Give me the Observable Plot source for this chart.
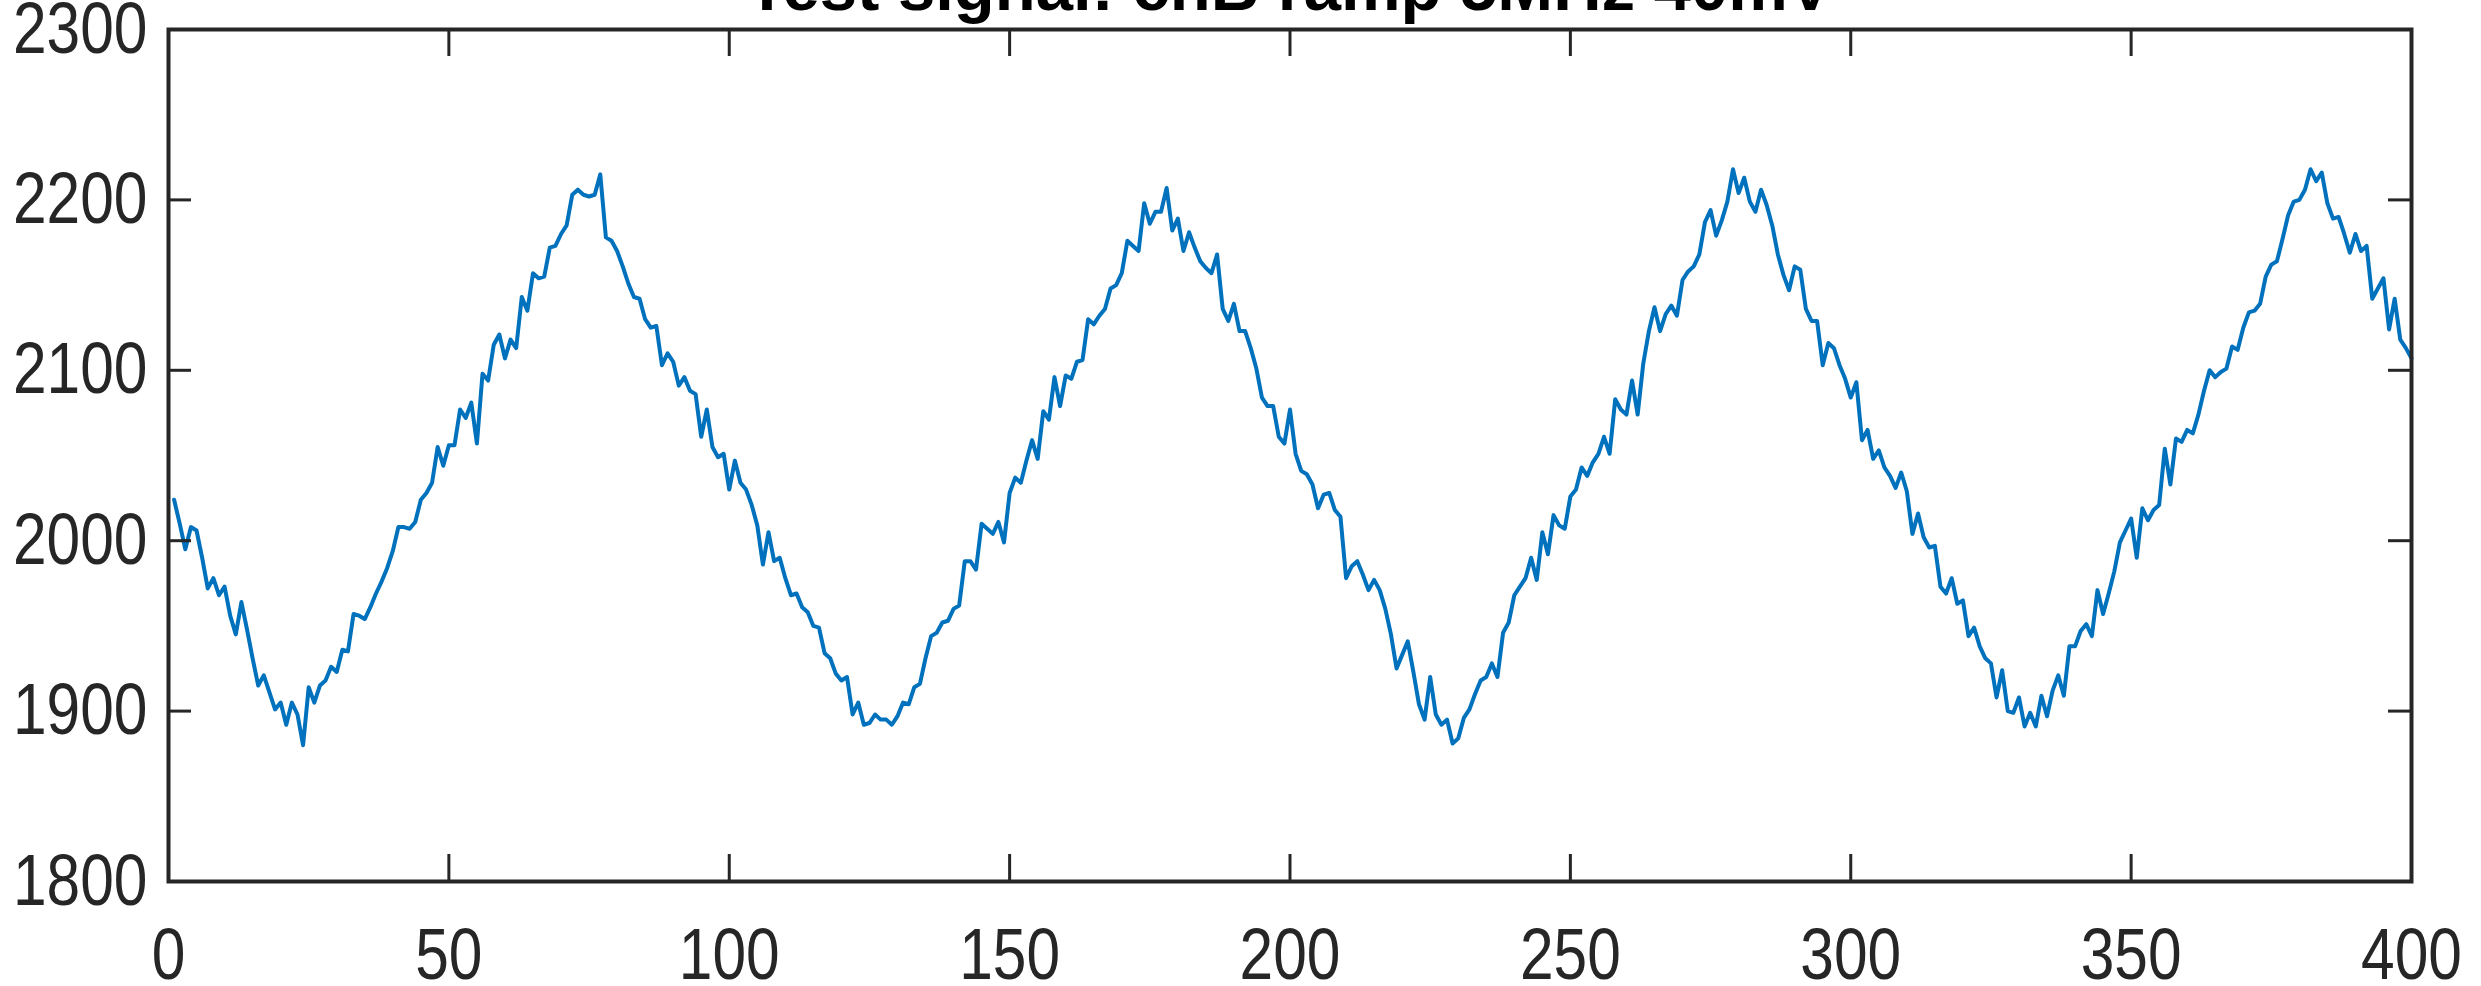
<!DOCTYPE html>
<html>
<head>
<meta charset="utf-8">
<script src="https://cdn.jsdelivr.net/npm/d3@7"></script>
<script src="https://cdn.jsdelivr.net/npm/@observablehq/plot@0.6"></script>
<style>
  html, body { margin: 0; padding: 0; background: #fff; }
  #wrap { position: relative; width: 2481px; height: 986px; overflow: hidden; }
  #title { position: absolute; left: 168px; width: 2243px; top: -47px; text-align: center;
           font-family: "Liberation Sans", Arial, sans-serif; font-weight: bold; font-size: 67px;
           line-height: 67px; color: #000; z-index: 2; white-space: nowrap; }
</style>
</head>
<body>
<div id="wrap"><div id="title"></div><div id="chart"></div></div>
<script>
const titleText = "Test signal: chB ramp 5MHz 40mV";
const xTicks = [0, 50, 100, 150, 200, 250, 300, 350, 400];
const yTicks = [1800, 1900, 2000, 2100, 2200, 2300];
const sampleIndex = d3.range(1, 401);
const signal = [
  2024, 2010, 1995, 2008, 2006, 1990, 1972, 1978, 1968, 1973, 1956, 1945, 1964, 1948, 1931, 1915, 1921, 1911, 1901, 1905,
  1892, 1905, 1898, 1880, 1914, 1905, 1915, 1918, 1926, 1923, 1936, 1935, 1957, 1956, 1954, 1961, 1969, 1976, 1984, 1994,
  2008, 2008, 2007, 2011, 2024, 2028, 2034, 2055, 2044, 2056, 2056, 2077, 2072, 2081, 2057, 2098, 2094, 2115, 2121, 2107,
  2118, 2113, 2143, 2135, 2157, 2154, 2155, 2172, 2173, 2180, 2185, 2203, 2206, 2203, 2202, 2203, 2215, 2178, 2176, 2170,
  2161, 2151, 2143, 2142, 2130, 2125, 2126, 2103, 2110, 2105, 2091, 2096, 2088, 2086, 2061, 2077, 2055, 2049, 2051, 2030,
  2047, 2034, 2030, 2021, 2009, 1986, 2005, 1988, 1990, 1978, 1968, 1969, 1961, 1958, 1950, 1949, 1934, 1931, 1922, 1918,
  1920, 1898, 1905, 1892, 1893, 1898, 1895, 1895, 1892, 1897, 1905, 1904, 1914, 1916, 1931, 1944, 1946, 1952, 1953, 1960,
  1962, 1988, 1988, 1983, 2010, 2007, 2004, 2011, 1999, 2028, 2037, 2034, 2047, 2059, 2048, 2076, 2071, 2096, 2079, 2097,
  2095, 2105, 2106, 2130, 2127, 2132, 2136, 2148, 2150, 2157, 2176, 2173, 2170, 2198, 2186, 2193, 2193, 2207, 2182, 2189,
  2170, 2181, 2172, 2164, 2160, 2157, 2168, 2136, 2129, 2139, 2123, 2123, 2113, 2101, 2084, 2079, 2079, 2061, 2057, 2077,
  2051, 2041, 2039, 2033, 2019, 2027, 2028, 2018, 2014, 1978, 1985, 1988, 1980, 1971, 1977, 1971, 1960, 1945, 1925, 1933,
  1941, 1923, 1904, 1895, 1920, 1898, 1892, 1895, 1881, 1884, 1896, 1901, 1910, 1918, 1920, 1928, 1920, 1946, 1952, 1968,
  1973, 1978, 1990, 1977, 2005, 1992, 2015, 2009, 2007, 2026, 2030, 2043, 2038, 2046, 2051, 2061, 2051, 2083, 2077, 2074,
  2094, 2074, 2104, 2123, 2137, 2123, 2133, 2138, 2132, 2153, 2158, 2161, 2168, 2187, 2194, 2179, 2188, 2199, 2218, 2204,
  2213, 2199, 2193, 2206, 2197, 2185, 2168, 2156, 2147, 2161, 2159, 2136, 2129, 2129, 2103, 2116, 2113, 2103, 2095, 2084,
  2093, 2059, 2065, 2048, 2053, 2043, 2038, 2031, 2040, 2029, 2004, 2016, 2002, 1996, 1997, 1973, 1969, 1978, 1963, 1965,
  1944, 1949, 1938, 1931, 1928, 1908, 1924, 1900, 1899, 1908, 1891, 1899, 1891, 1909, 1897, 1912, 1921, 1909, 1938, 1938,
  1947, 1951, 1944, 1971, 1957, 1969, 1982, 1999, 2006, 2013, 1990, 2019, 2012, 2018, 2021, 2054, 2033, 2060, 2058, 2065,
  2063, 2074, 2088, 2100, 2096, 2099, 2101, 2114, 2112, 2125, 2134, 2135, 2139, 2155, 2162, 2164, 2177, 2191, 2199, 2200,
  2206, 2218, 2211, 2216, 2198, 2189, 2190, 2180, 2169, 2180, 2170, 2173, 2142, 2148, 2154, 2124, 2142, 2118, 2113, 2107
];

document.getElementById("title").textContent = titleText;

const data = sampleIndex.map((s, i) => ({sample: s, value: signal[i]}));

const W = 2481, H = 986;
const mL = 168, mR = 70, mT = 29, mB = 105;
const innerW = W - mL - mR, innerH = H - mT - mB;
const axisColor = "#262626";
const fmt = d3.format("d");

const chart = Plot.plot({
  width: W, height: H,
  marginLeft: mL, marginRight: mR, marginTop: mT, marginBottom: mB,
  x: {domain: [0, 400], label: null},
  y: {domain: [1800, 2300], label: null},
  style: {
    fontFamily: '"Liberation Sans", Arial, sans-serif',
    fontSize: "72px",
    color: axisColor,
    background: "white",
    overflow: "visible"
  },
  marks: [
    Plot.line(data, {x: "sample", y: "value", stroke: "#0072BD", strokeWidth: 4, strokeLinejoin: "round"}),
    Plot.tickX(xTicks, {x: d => d, stroke: axisColor, strokeWidth: 3, insetTop: innerH - 27}),
    Plot.tickX(xTicks, {x: d => d, stroke: axisColor, strokeWidth: 3, insetBottom: innerH - 27}),
    Plot.tickY(yTicks, {y: d => d, stroke: axisColor, strokeWidth: 3, insetRight: innerW - 23}),
    Plot.tickY(yTicks, {y: d => d, stroke: axisColor, strokeWidth: 3, insetLeft: innerW - 23}),
    Plot.frame({stroke: axisColor, strokeWidth: 4}),
    Plot.axisX(xTicks, {tickSize: 0, tickPadding: 46, fill: axisColor, tickFormat: fmt}),
    Plot.axisY(yTicks, {tickSize: 0, tickPadding: 21, fill: axisColor, tickFormat: fmt})
  ]
});
document.getElementById("chart").appendChild(chart);

// narrow the tick labels horizontally to match the condensed look of the reference
const squeeze = 0.84;
chart.querySelectorAll('g[aria-label="x-axis tick label"] text').forEach(t => {
  const b = t.getBBox();
  const cx = b.x + b.width / 2;
  const tr = t.getAttribute("transform") || "";
  t.setAttribute("transform", `${tr} translate(${cx},0) scale(${squeeze},1) translate(${-cx},0)`);
});
chart.querySelectorAll('g[aria-label="y-axis tick label"] text').forEach(t => {
  const b = t.getBBox();
  const cx = b.x + b.width;
  const tr = t.getAttribute("transform") || "";
  t.setAttribute("transform", `${tr} translate(${cx},0) scale(${squeeze},1) translate(${-cx},0)`);
});
</script>
</body>
</html>
